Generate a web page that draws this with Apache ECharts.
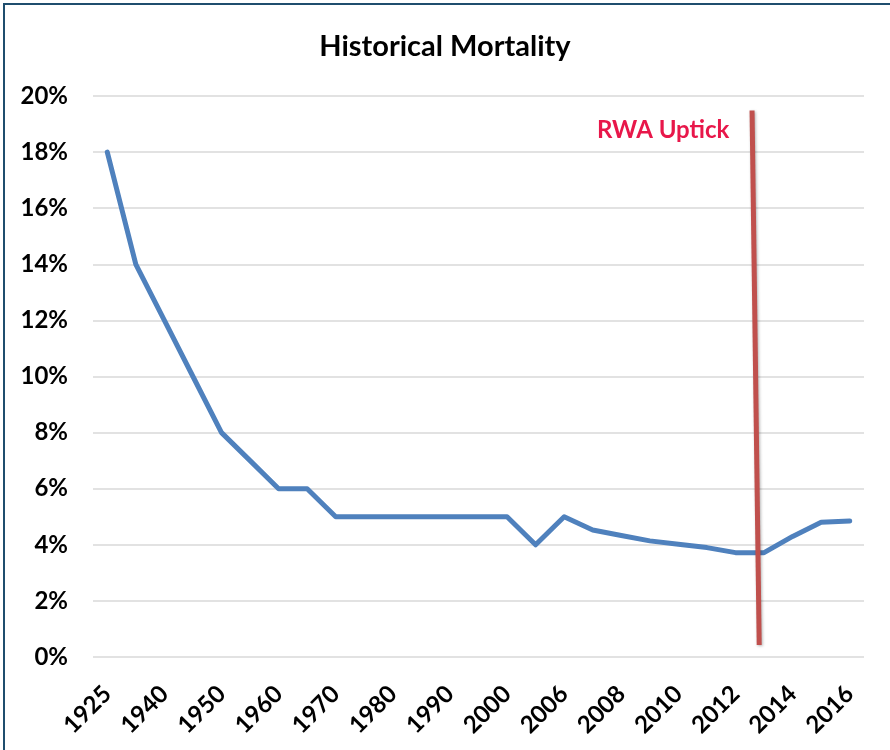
<!DOCTYPE html>
<html>
<head>
<meta charset="utf-8">
<script src="https://cdn.jsdelivr.net/npm/echarts@6/dist/echarts.min.js"></script>
<style>
  html, body { margin: 0; padding: 0; background: #fff; }
  #frame { position: absolute; left: 3px; top: 3px; width: 900px; height: 800px;
           border-left: 2px solid #1f4e6e; border-top: 2px solid #1f4e6e; }
  #chart { position: absolute; left: 0; top: 0; width: 890px; height: 750px; }
</style>
</head>
<body>
<div id="frame"></div>
<div id="chart"></div>
<script>
// categories (only every other one is labelled on the axis)
const years = ['1925', '1930', '1940', '1945', '1950', '1955', '1960', '1965', '1970', '1975',
  '1980', '1985', '1990', '1995', '2000', '2005', '2006', '2007', '2008', '2009',
  '2010', '2011', '2012', '2013', '2014', '2015', '2016'];

// mortality, percent
const mortality = [18, 14, 12, 10, 8, 7, 6, 6, 5, 5,
  5, 5, 5, 5, 5, 4, 5, 4.53, 4.33, 4.14,
  4.02, 3.9, 3.72, 3.72, 4.3, 4.8, 4.85];

// annotation line, [category position, percent]
const uptickLine = [[22.58, 19.48], [22.83, 0.43]];

const fontFamily = 'Lato';

const chart = echarts.init(document.getElementById('chart'));
const option = {
  backgroundColor: 'transparent',
  animation: false,
  title: {
    text: 'Historical Mortality',
    left: 'center',
    top: 27,
    textStyle: { fontFamily, fontSize: 29, fontWeight: 'bold', color: '#000' },
  },
  grid: { left: 93, right: 26, top: 96, bottom: 93 },
  xAxis: [
    {
      type: 'category',
      data: years,
      boundaryGap: true,
      axisLine: { show: false },
      axisTick: { show: false },
      axisLabel: {
        interval: 1,
        rotate: 45,
        margin: 33,
        fontFamily,
        fontSize: 24,
        fontWeight: 'bold',
        color: '#000',
      },
    },
    {
      type: 'value',
      min: -0.5,
      max: 26.5,
      show: false,
    },
  ],
  yAxis: {
    type: 'value',
    min: 0,
    max: 20,
    interval: 2,
    axisLine: { show: false },
    axisTick: { show: false },
    axisLabel: {
      formatter: '{value}%',
      margin: 25,
      fontFamily,
      fontSize: 24,
      fontWeight: 'bold',
      color: '#000',
    },
    splitLine: { lineStyle: { color: '#d9d9d9', width: 1.5 } },
  },
  series: [
    {
      name: 'Mortality',
      type: 'line',
      data: mortality,
      symbol: 'none',
      lineStyle: { color: '#4f81bd', width: 5, cap: 'round', join: 'round' },
    },
    {
      name: 'RWA Uptick',
      type: 'line',
      xAxisIndex: 1,
      data: uptickLine,
      symbol: 'none',
      z: 3,
      lineStyle: {
        color: '#c0504d',
        width: 5,
        shadowColor: 'rgba(0,0,0,0.3)',
        shadowBlur: 3,
        shadowOffsetX: 1,
        shadowOffsetY: 1,
      },
    },
  ],
  graphic: [
    {
      type: 'text',
      left: 597,
      top: 118,
      style: {
        text: 'RWA Uptick',
        fill: '#e8174a',
        font: 'bold 24px Lato',
      },
    },
  ],
};
chart.setOption(option);
</script>
</body>
</html>
